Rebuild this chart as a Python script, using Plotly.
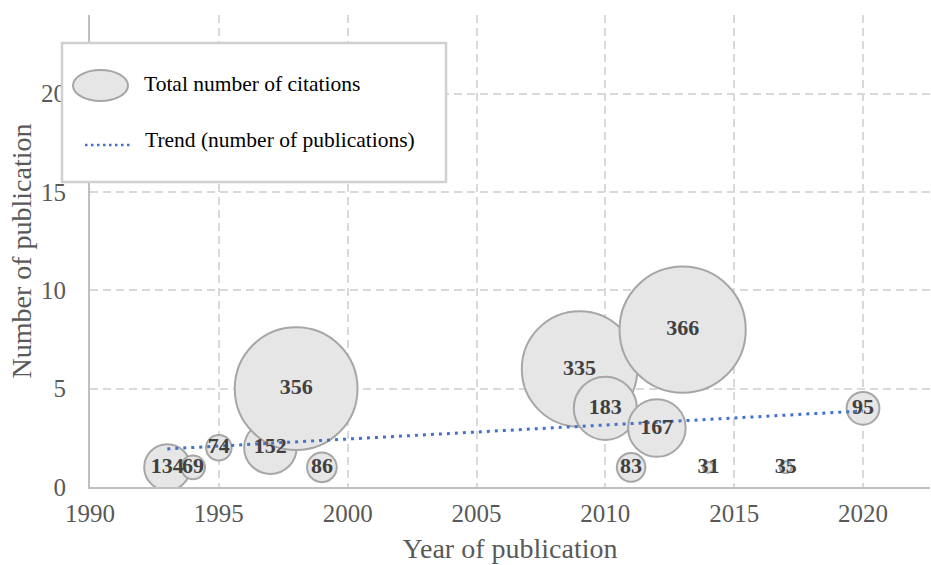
import numpy as np
import plotly.graph_objects as go

# Publications per year with their total citations
years = [1993, 1994, 1995, 1997, 1998, 1999, 2009, 2010, 2011, 2012, 2013, 2014, 2017, 2020]
publications = [1, 1, 2, 2, 5, 1, 6, 4, 1, 3, 8, 1, 1, 4]
citations = [134, 69, 74, 152, 356, 86, 335, 183, 83, 167, 366, 31, 35, 95]

x_ticks = [1990, 1995, 2000, 2005, 2010, 2015, 2020]
y_ticks = [0, 5, 10, 15, 20]

FONT = "Liberation Serif, Times New Roman, serif"
BUBBLE_FILL = "#e6e6e6"
BUBBLE_LINE = "#a6a6a6"
TREND_COLOR = "#4472c4"
GRID_COLOR = "#d9d9d9"
AXIS_COLOR = "#bfbfbf"

# Linear trend of the number of publications
slope, intercept = np.polyfit(years, publications, 1)
trend_x = [min(years), max(years)]
trend_y = [slope * x + intercept for x in trend_x]

fig = go.Figure()

fig.add_trace(go.Scatter(
    x=years, y=publications, mode="markers",
    marker=dict(size=citations, sizemode="diameter", sizeref=2.9,
                color=BUBBLE_FILL, opacity=1,
                line=dict(color=BUBBLE_LINE, width=2)),
    hoverinfo="skip", showlegend=False,
))

fig.add_trace(go.Scatter(
    x=trend_x, y=trend_y, mode="lines",
    line=dict(color=TREND_COLOR, width=3, dash="3px,5px"),
    hoverinfo="skip", showlegend=False,
))

fig.add_trace(go.Scatter(
    x=years, y=publications, mode="text",
    text=[str(c) for c in citations], textposition="middle center",
    textfont=dict(family=FONT, size=22, color="#404040", weight="bold"),
    hoverinfo="skip", showlegend=False,
))

# Plot area geometry (pixels) used for the hand-drawn legend box
W, H = 931, 565
L, R, T, B = 90, 1, 15, 78
PX0, PX1 = L, W - R
PY0, PY1 = T, H - B


def px(p):
    return (p - PX0) / (PX1 - PX0)


def py(p):
    return (PY1 - p) / (PY1 - PY0)


shapes = [
    dict(type="rect", xref="paper", yref="paper",
         x0=px(62), x1=px(446), y0=py(182), y1=py(43),
         fillcolor="white", line=dict(color="#d0d0d0", width=2.5), layer="above"),
    dict(type="circle", xref="paper", yref="paper",
         x0=px(73), x1=px(128), y0=py(101), y1=py(70),
         fillcolor=BUBBLE_FILL, line=dict(color=BUBBLE_LINE, width=2), layer="above"),
    dict(type="line", xref="paper", yref="paper",
         x0=px(85), x1=px(131), y0=py(145), y1=py(145),
         line=dict(color=TREND_COLOR, width=2.5, dash="2.5px,3.5px"), layer="above"),
]

annotations = [
    dict(xref="paper", yref="paper", x=px(142), y=py(84), xanchor="left", yanchor="middle",
         text="Total number of citations", showarrow=False,
         font=dict(family=FONT, size=21.5, color="#000000")),
    dict(xref="paper", yref="paper", x=px(143), y=py(140), xanchor="left", yanchor="middle",
         text="Trend (number of publications)", showarrow=False,
         font=dict(family=FONT, size=21.5, color="#000000")),
]

fig.update_layout(
    width=W, height=H,
    margin=dict(l=L, r=R, t=T, b=B),
    paper_bgcolor="white", plot_bgcolor="white",
    showlegend=False,
    shapes=shapes, annotations=annotations,
    font=dict(family=FONT),
)

fig.update_xaxes(
    range=[1990, 2022.6], tickvals=x_ticks, ticktext=[str(v) for v in x_ticks],
    showgrid=True, gridcolor=GRID_COLOR, gridwidth=1.5, griddash="8px,5px",
    zeroline=False, showline=True, linecolor=AXIS_COLOR, linewidth=2,
    ticks="", ticklabelstandoff=3,
    tickfont=dict(family=FONT, size=25, color="#595959"),
    title=dict(text="Year of publication", standoff=12,
               font=dict(family=FONT, size=28, color="#595959")),
)

fig.update_yaxes(
    range=[0, 24], tickvals=y_ticks, ticktext=[str(v) for v in y_ticks],
    showgrid=True, gridcolor=GRID_COLOR, gridwidth=1.5, griddash="8px,5px",
    zeroline=False, showline=True, linecolor=AXIS_COLOR, linewidth=2,
    ticks="", ticklabelstandoff=17,
    tickfont=dict(family=FONT, size=25, color="#595959"),
    title=dict(text="Number of publication", standoff=1,
               font=dict(family=FONT, size=28, color="#595959")),
)

fig.write_html("out.html")
